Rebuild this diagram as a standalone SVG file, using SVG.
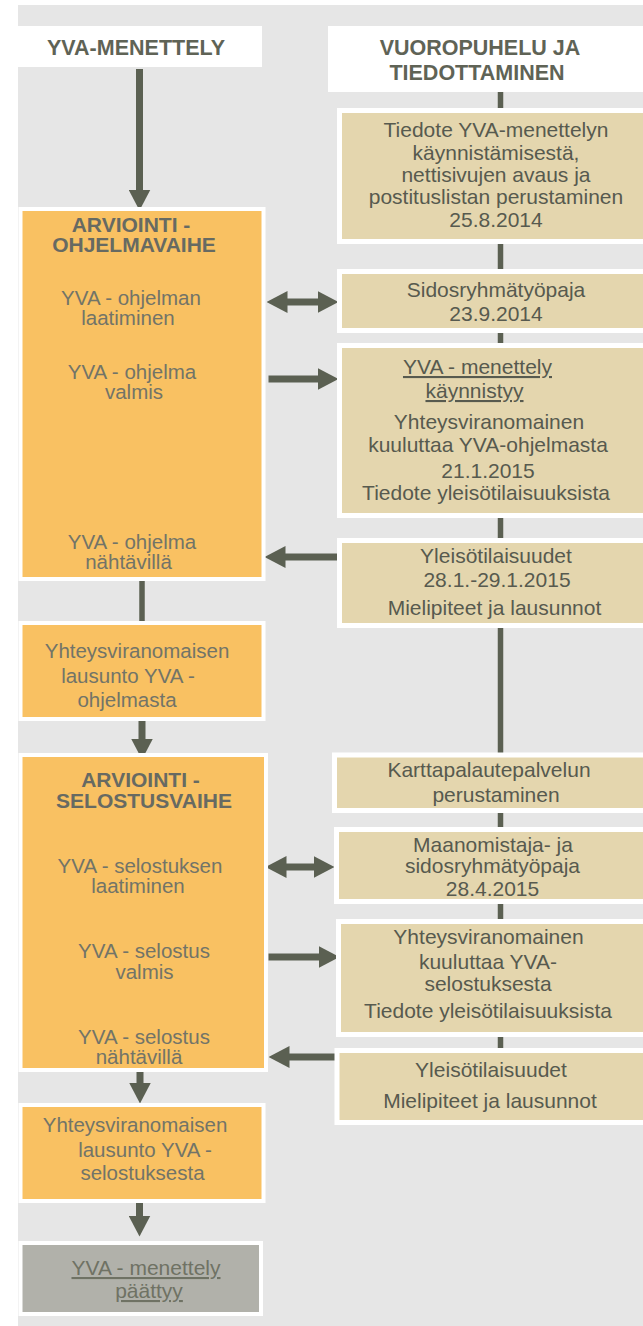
<svg xmlns="http://www.w3.org/2000/svg" width="643" height="1326" viewBox="0 0 643 1326">
<style>
text{font-family:"Liberation Sans",Arial,sans-serif;font-size:21px;text-anchor:middle}
.hd{font-weight:bold;fill:#5f6356;font-size:21.5px}
.ti{font-weight:bold;fill:#676a62}
.ob{fill:#727468;font-size:20.5px}
.tb{fill:#575a4f}
.gb{fill:#6f7264;text-decoration:underline}
.u{text-decoration:underline}
.or{fill:#f9c162;stroke:#ffffff;stroke-width:4}
.tan{fill:#e4d6ae;stroke:#ffffff;stroke-width:5}
.gr{fill:#b1b1aa;stroke:#ffffff;stroke-width:4}
.wh{fill:#ffffff}
.ln{stroke:#5b6052;stroke-width:5.5;fill:none}
.ar{stroke:#5b6052;stroke-width:7;fill:none;marker-end:url(#ah)}
.dar{stroke:#5b6052;stroke-width:7;fill:none;marker-end:url(#ah);marker-start:url(#ah)}
</style>
<defs>
<marker id="ah" viewBox="0 0 21 22" markerUnits="userSpaceOnUse" markerWidth="21" markerHeight="22" refX="0.5" refY="11" orient="auto-start-reverse">
<path d="M0,0 L21,11 L0,22 Z" fill="#5b6052"/>
</marker>
</defs>
<rect x="18" y="5" width="625" height="1321" fill="#e6e6e6"/>

<g id="connectors">
<line class="ln" x1="500.5" y1="92" x2="500.5" y2="1050"/>
<line class="ar" x1="139.5" y1="69" x2="139.5" y2="190"/>
<line class="dar" x1="287" y1="302" x2="318" y2="302"/>
<line class="ar" x1="268.5" y1="379" x2="318" y2="379"/>
<line class="ar" x1="340" y1="557" x2="285" y2="557"/>
<line class="ln" x1="142" y1="579" x2="142" y2="624"/>
<line class="ar" x1="142" y1="719" x2="142" y2="739"/>
<line class="dar" x1="286" y1="867" x2="314" y2="867"/>
<line class="ar" x1="268.5" y1="957" x2="319" y2="957"/>
<line class="ar" x1="339.5" y1="1057" x2="289" y2="1057"/>
<line class="ar" x1="140" y1="1070" x2="140" y2="1083"/>
<line class="ar" x1="139.5" y1="1201" x2="139.5" y2="1216"/>
</g>

<g id="hdr-left">
<rect class="wh" x="18" y="26" width="244" height="41"/>
<text class="hd" x="136" y="55">YVA-MENETTELY</text>
</g>
<g id="hdr-right">
<rect class="wh" x="328" y="26" width="315" height="66"/>
<text class="hd" x="480" y="55">VUOROPUHELU JA</text>
<text class="hd" x="477" y="80">TIEDOTTAMINEN</text>
</g>

<g id="n-ohjelmavaihe">
<rect class="or" x="20.5" y="209" width="243" height="370"/>
<text class="ti" x="131" y="232">ARVIOINTI -</text>
<text class="ti" x="134" y="252">OHJELMAVAIHE</text>
<text class="ob" x="131" y="305">YVA - ohjelman</text>
<text class="ob" x="128" y="325">laatiminen</text>
<text class="ob" x="132" y="379">YVA - ohjelma</text>
<text class="ob" x="134" y="399">valmis</text>
<text class="ob" x="132" y="549">YVA - ohjelma</text>
<text class="ob" x="128.5" y="569">nähtävillä</text>
</g>

<g id="n-lausunto-ohjelma">
<rect class="or" x="20.5" y="623" width="243" height="96"/>
<text class="ob" x="137" y="658">Yhteysviranomaisen</text>
<text class="ob" x="128" y="683">lausunto YVA -</text>
<text class="ob" x="127" y="707">ohjelmasta</text>
</g>

<g id="n-selostusvaihe">
<rect class="or" x="20.5" y="755" width="245.5" height="315"/>
<text class="ti" x="140.5" y="787">ARVIOINTI -</text>
<text class="ti" x="144" y="808">SELOSTUSVAIHE</text>
<text class="ob" x="140" y="873">YVA - selostuksen</text>
<text class="ob" x="138" y="893">laatiminen</text>
<text class="ob" x="144" y="958">YVA - selostus</text>
<text class="ob" x="144.5" y="979">valmis</text>
<text class="ob" x="144" y="1044">YVA - selostus</text>
<text class="ob" x="139" y="1064">nähtävillä</text>
</g>

<g id="n-lausunto-selostus">
<rect class="or" x="20.5" y="1105" width="243" height="96"/>
<text class="ob" x="135" y="1132">Yhteysviranomaisen</text>
<text class="ob" x="145" y="1157">lausunto YVA -</text>
<text class="ob" x="142.5" y="1180">selostuksesta</text>
</g>

<g id="n-paattyy">
<rect class="gr" x="20.5" y="1243" width="240.5" height="71"/>
<text class="gb" x="146" y="1275">YVA - menettely</text>
<text class="gb" x="149" y="1298">päättyy</text>
</g>

<g id="n-tiedote">
<rect class="tan" x="339.5" y="110.5" width="310" height="131"/>
<text class="tb" x="496" y="137">Tiedote YVA-menettelyn</text>
<text class="tb" x="496" y="160">käynnistämisestä,</text>
<text class="tb" x="496" y="182">nettisivujen avaus ja</text>
<text class="tb" x="496" y="204">postituslistan perustaminen</text>
<text class="tb" x="496" y="227">25.8.2014</text>
</g>

<g id="n-sidosryhma">
<rect class="tan" x="339.5" y="271.5" width="310" height="59"/>
<text class="tb" x="496" y="297">Sidosryhmätyöpaja</text>
<text class="tb" x="496" y="321">23.9.2014</text>
</g>

<g id="n-kaynnistyy">
<rect class="tan" x="339.5" y="345.5" width="310" height="170"/>
<text class="tb u" x="477.5" y="374">YVA - menettely</text>
<text class="tb u" x="474.5" y="398">käynnistyy</text>
<text class="tb" x="489" y="429">Yhteysviranomainen</text>
<text class="tb" x="488" y="452">kuuluttaa YVA-ohjelmasta</text>
<text class="tb" x="488" y="478">21.1.2015</text>
<text class="tb" x="486" y="500">Tiedote yleisötilaisuuksista</text>
</g>

<g id="n-yleiso1">
<rect class="tan" x="339.5" y="540.5" width="310" height="85"/>
<text class="tb" x="496" y="563">Yleisötilaisuudet</text>
<text class="tb" x="497" y="587">28.1.-29.1.2015</text>
<text class="tb" x="494.5" y="615">Mielipiteet ja lausunnot</text>
</g>

<g id="n-kartta">
<rect class="tan" x="334.5" y="755" width="315" height="55.5"/>
<text class="tb" x="489" y="777">Karttapalautepalvelun</text>
<text class="tb" x="496" y="802">perustaminen</text>
</g>

<g id="n-maanomistaja">
<rect class="tan" x="336.5" y="829.5" width="313" height="72"/>
<text class="tb" x="493" y="852">Maanomistaja- ja</text>
<text class="tb" x="492.5" y="873">sidosryhmätyöpaja</text>
<text class="tb" x="492.5" y="896">28.4.2015</text>
</g>

<g id="n-kuuluttaa-selostus">
<rect class="tan" x="338.5" y="921.5" width="311" height="113"/>
<text class="tb" x="488.5" y="944">Yhteysviranomainen</text>
<text class="tb" x="488" y="969">kuuluttaa YVA-</text>
<text class="tb" x="488" y="991">selostuksesta</text>
<text class="tb" x="488" y="1018">Tiedote yleisötilaisuuksista</text>
</g>

<g id="n-yleiso2">
<rect class="tan" x="337" y="1050.5" width="313" height="72"/>
<text class="tb" x="491" y="1077">Yleisötilaisuudet</text>
<text class="tb" x="490" y="1108">Mielipiteet ja lausunnot</text>
</g>
</svg>
